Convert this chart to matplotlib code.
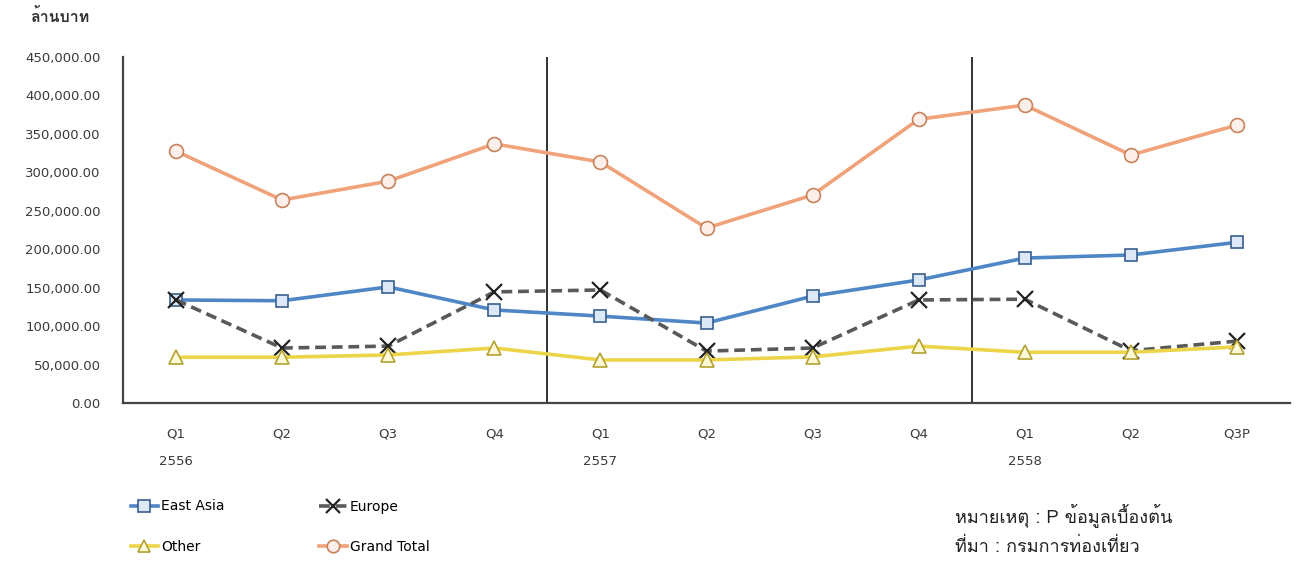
import matplotlib
matplotlib.use("Agg")
import matplotlib.pyplot as plt
import matplotlib.font_manager as fm
from matplotlib.ft2font import FT2Font
from matplotlib.ticker import FuncFormatter

quarters = ["Q1", "Q2", "Q3", "Q4", "Q1", "Q2", "Q3", "Q4", "Q1", "Q2", "Q3P"]
years = ["2556", "", "", "", "2557", "", "", "", "2558", "", ""]

east_asia = [134000, 133000, 151000, 121000, 113000, 104000, 139000, 160000, 188500, 192500, 209000]
europe = [134000, 71500, 74000, 144500, 147000, 67500, 71500, 134000, 135000, 68000, 80500]
other = [59500, 59500, 62500, 71500, 56000, 56000, 60000, 74000, 66000, 66000, 73000]
grand_total = [327500, 264000, 288500, 337000, 313500, 227500, 270500, 369000, 387500, 322500, 361500]


def thai_family():
    # pick any installed family that actually has Thai glyphs
    seen = set()
    for f in fm.fontManager.ttflist:
        if f.name in seen:
            continue
        seen.add(f.name)
        try:
            if 0x0E01 in FT2Font(f.fname).get_charmap():
                return f.name
        except Exception:
            pass
    return None


thai = thai_family()
fams = ([thai] if thai else []) + ["DejaVu Sans"]
latin = "DejaVu Sans"
tick_color = "#3a3a3a"

fig = plt.figure(figsize=(12.98, 5.63), dpi=100)
ax = fig.add_axes([123 / 1298, 160 / 563, (1290 - 123) / 1298, (403 - 57) / 563])

x = list(range(len(quarters)))
l1, = ax.plot(x, east_asia, color="#4f86c6", lw=2.6, marker="s", ms=9,
              mfc="#dce8f5", mec="#3a5f8f", mew=1.2, label="East Asia")
l2, = ax.plot(x, europe, color="#595959", lw=2.6, ls=(0, (3, 1.6)), marker="x",
              ms=11, mec="#222222", mew=1.6, label="Europe")
l3, = ax.plot(x, other, color="#ecd54a", lw=2.6, marker="^", ms=10,
              mfc="#fdf8d8", mec="#b3a230", mew=1.2, label="Other")
l4, = ax.plot(x, grand_total, color="#f0a27a", lw=2.6, marker="o", ms=10,
              mfc="#fdf0ea", mec="#c8825c", mew=1.2, label="Grand Total")

for sep in (3.5, 7.5):
    ax.axvline(sep, color="#333333", lw=1.4, zorder=1)

ax.set_xlim(-0.5, len(quarters) - 0.5)
ax.set_ylim(0, 450000)
ax.set_yticks(range(0, 450001, 50000))
ax.yaxis.set_major_formatter(FuncFormatter(lambda v, p: f"{v:,.2f}"))
ax.set_xticks(x)
ax.set_xticklabels([])
ax.tick_params(axis="both", length=0, labelsize=9.5, colors=tick_color)
ax.tick_params(axis="y", pad=16)
for lab in ax.get_yticklabels():
    lab.set_family(latin)
for s in ("top", "right"):
    ax.spines[s].set_visible(False)
for s in ("left", "bottom"):
    ax.spines[s].set_color("#444444")
    ax.spines[s].set_linewidth(1.6)

for i, (q, y) in enumerate(zip(quarters, years)):
    ax.text(i, -0.09, q, transform=ax.get_xaxis_transform(), ha="center",
            va="center", fontsize=9.5, family=latin, color=tick_color)
    if y:
        ax.text(i, -0.17, y, transform=ax.get_xaxis_transform(), ha="center",
                va="center", fontsize=9.5, family=latin, color=tick_color)

fig.text(30 / 1298, 1 - 17 / 563, "ล้านบาท", ha="left", va="center",
         fontsize=11.5, fontweight="bold", family=fams, color="#333333")

fig.legend(handles=[l1, l3, l2, l4], loc="upper left", ncol=2,
           bbox_to_anchor=(118 / 1298, 1 - 487 / 563), frameon=False,
           prop={"family": latin, "size": 10}, columnspacing=6.8,
           handlelength=2.0, handletextpad=0.2, labelspacing=1.9,
           markerscale=0.9)

fig.text(955 / 1298, 1 - 515 / 563, "หมายเหตุ : P ข้อมูลเบื้องต้น", ha="left",
         va="center", fontsize=13, family=fams, color="#222222")
fig.text(955 / 1298, 1 - 547 / 563, "ที่มา : กรมการท่องเที่ยว", ha="left",
         va="center", fontsize=13, family=fams, color="#222222")

fig.savefig("out.png", dpi=100)
